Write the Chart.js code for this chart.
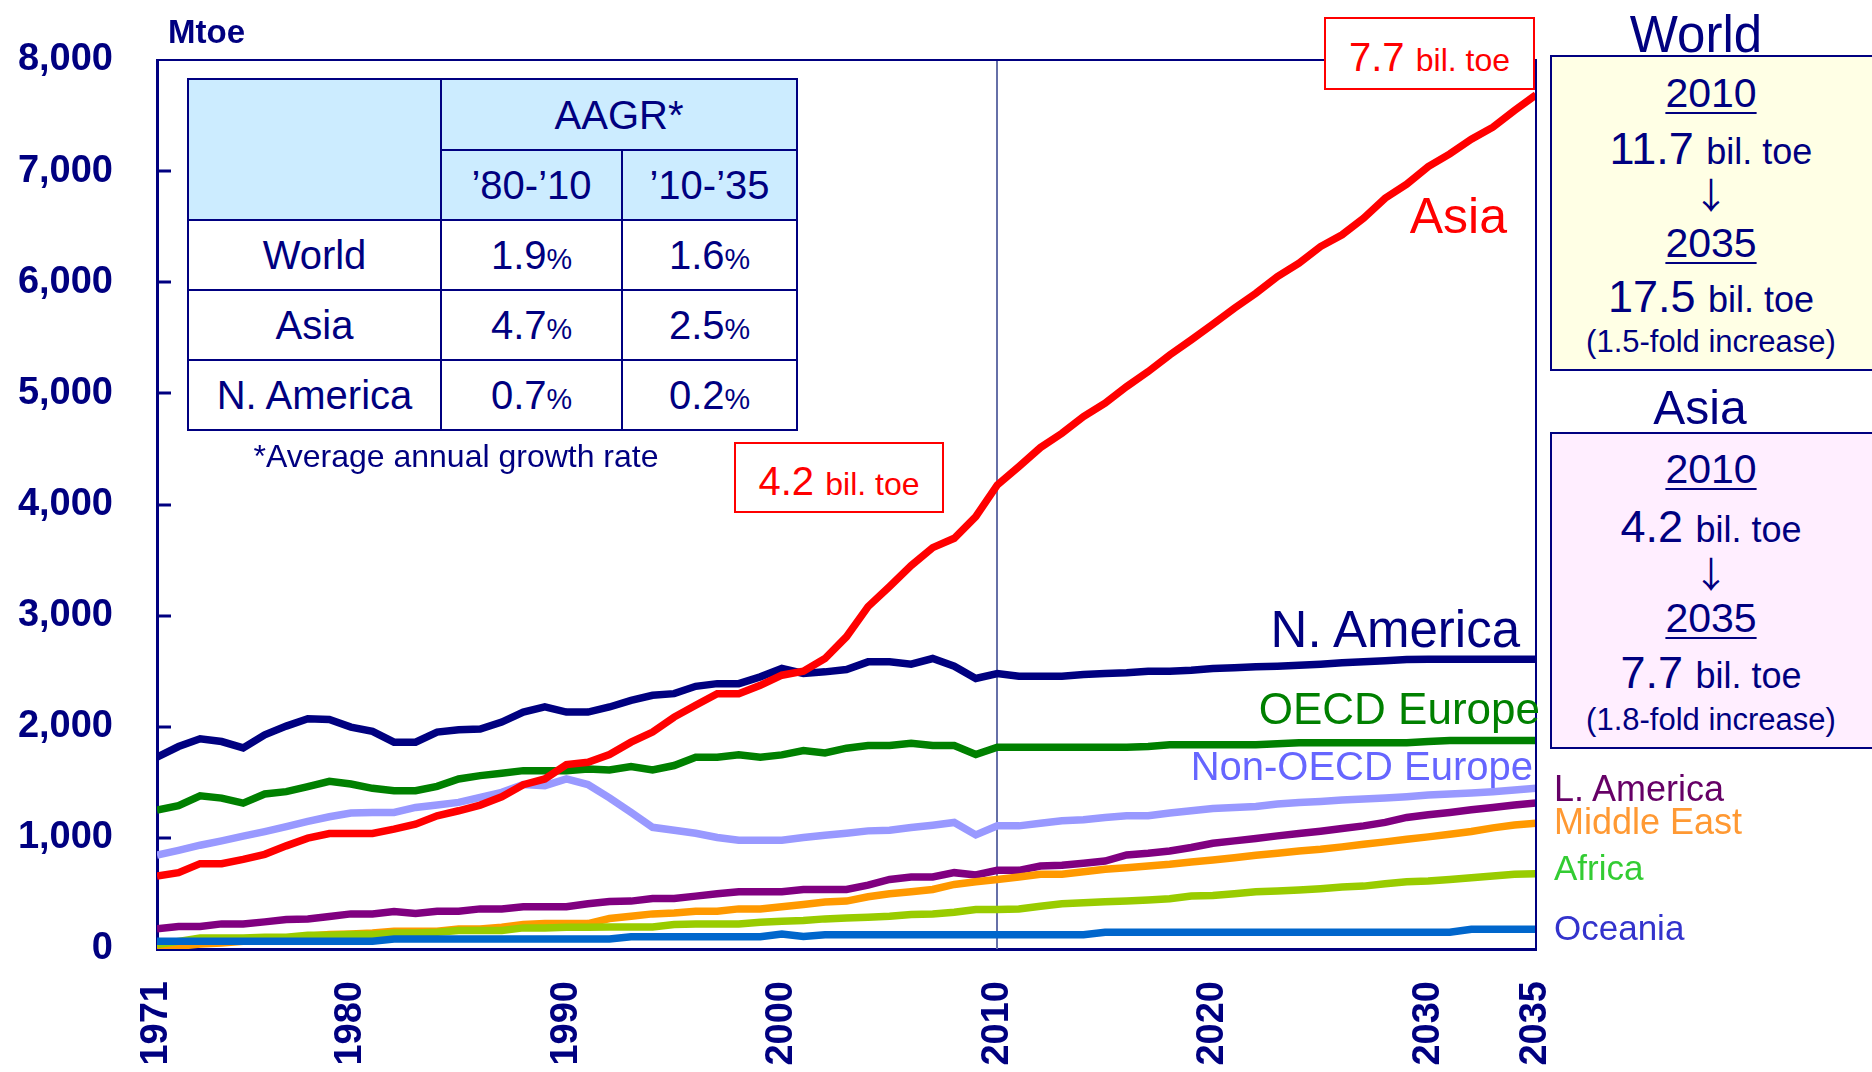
<!DOCTYPE html>
<html><head><meta charset="utf-8">
<script src="https://cdn.jsdelivr.net/npm/chart.js@4/dist/chart.umd.min.js"></script>
<style>
html,body{margin:0;padding:0;background:#fff;}
#wrap{position:relative;width:1872px;height:1072px;overflow:hidden;font-family:"Liberation Sans",Arial,sans-serif;color:#000080;}
canvas{position:absolute;left:0;top:0;}
.t{position:absolute;white-space:nowrap;line-height:1;}
.c{text-align:center;}
.arr{font-family:"Noto Sans CJK JP","Noto Sans CJK SC",sans-serif;}
.box{position:absolute;box-sizing:border-box;}
#tbl{position:absolute;left:187px;top:78px;width:609px;height:352px;border-collapse:collapse;table-layout:fixed;background:#fff;font-size:40px;color:#000080;}
#tbl td{border:2px solid #000080;text-align:center;padding:0;line-height:1;}
#tbl td.hd{background:#CCECFF;}
small{font-size:0.72em;}
u{text-decoration-thickness:2px;text-underline-offset:5px;}
</style></head><body>
<div id="wrap">
<canvas id="c" width="1872" height="1072"></canvas>

<div class="t" style="left:168px;top:15px;font-size:33px;font-weight:bold;">Mtoe</div>

<table id="tbl"></table>
<div class="t c" style="left:236px;width:440px;top:440px;font-size:32px;">*Average annual growth rate</div>

<div class="box" style="left:1324px;top:17px;width:211px;height:73px;border:2px solid #FF0000;background:#fff;"></div>
<div class="t c" style="left:1324px;width:211px;top:37px;font-size:40px;color:#FF0000;">7.7 <span style="font-size:32px">bil. toe</span></div>

<div class="box" style="left:734px;top:442px;width:210px;height:71px;border:2px solid #FF0000;background:#fff;"></div>
<div class="t c" style="left:734px;width:210px;top:461px;font-size:40px;color:#FF0000;">4.2 <span style="font-size:32px">bil. toe</span></div>

<div class="t" style="right:365px;top:191px;font-size:50px;color:#FF0000;">Asia</div>
<div class="t" style="right:352px;top:604px;font-size:51px;color:#000080;">N. America</div>
<div class="t" style="right:332px;top:687px;font-size:44px;color:#008000;">OECD Europe</div>
<div class="t" style="right:339px;top:746px;font-size:40px;color:#6666FF;">Non-OECD Europe</div>
<div class="t" style="left:1554px;top:771px;font-size:36px;color:#660066;">L. America</div>
<div class="t" style="left:1554px;top:804px;font-size:36px;color:#FF9933;">Middle East</div>
<div class="t" style="left:1554px;top:850px;font-size:35px;color:#33CC33;">Africa</div>
<div class="t" style="left:1554px;top:910px;font-size:35px;color:#3333CC;">Oceania</div>

<div class="t c" style="left:1596px;width:200px;top:9px;font-size:51px;">World</div>
<div class="box" style="left:1550px;top:55px;width:340px;height:316px;border:2px solid #000080;background:#FFFFE5;"></div>
<div class="t c" style="left:1551px;width:320px;top:73px;font-size:41px;"><u>2010</u></div>
<div class="t c" style="left:1551px;width:320px;top:126px;font-size:45px;">11.7 <span style="font-size:36px">bil. toe</span></div>
<div class="t c arr" style="left:1551px;width:320px;top:175px;font-size:36px;">↓</div>
<div class="t c" style="left:1551px;width:320px;top:223px;font-size:41px;"><u>2035</u></div>
<div class="t c" style="left:1551px;width:320px;top:274px;font-size:45px;">17.5 <span style="font-size:36px">bil. toe</span></div>
<div class="t c" style="left:1551px;width:320px;top:326px;font-size:31px;">(1.5-fold increase)</div>

<div class="t c" style="left:1600px;width:200px;top:384px;font-size:48px;">Asia</div>
<div class="box" style="left:1550px;top:432px;width:340px;height:317px;border:2px solid #000080;background:#FFEEFF;"></div>
<div class="t c" style="left:1551px;width:320px;top:449px;font-size:41px;"><u>2010</u></div>
<div class="t c" style="left:1551px;width:320px;top:504px;font-size:45px;">4.2 <span style="font-size:36px">bil. toe</span></div>
<div class="t c arr" style="left:1551px;width:320px;top:554px;font-size:36px;">↓</div>
<div class="t c" style="left:1551px;width:320px;top:598px;font-size:41px;"><u>2035</u></div>
<div class="t c" style="left:1551px;width:320px;top:650px;font-size:45px;">7.7 <span style="font-size:36px">bil. toe</span></div>
<div class="t c" style="left:1551px;width:320px;top:704px;font-size:31px;">(1.8-fold increase)</div>
</div>

<script>
const years = [1971,1972,1973,1974,1975,1976,1977,1978,1979,1980,1981,1982,1983,1984,1985,1986,1987,1988,1989,1990,
1991,1992,1993,1994,1995,1996,1997,1998,1999,2000,2001,2002,2003,2004,2005,2006,2007,2008,2009,2010,
2011,2012,2013,2014,2015,2016,2017,2018,2019,2020,2021,2022,2023,2024,2025,2026,2027,2028,2029,2030,
2031,2032,2033,2034,2035];
const xTickYears = [1971,1980,1990,2000,2010,2020,2030,2035];
const yTickValues = [0,1000,2000,3000,4000,5000,6000,7000,8000];
const markerYear = 2010;

const asia = [657,687,768,768,807,852,928,997,1039,1039,1039,1078,1123,1199,1244,1295,1370,1479,1530,1660,
1681,1750,1861,1952,2087,2193,2298,2298,2373,2464,2500,2614,2810,3081,3262,3450,3612,3696,3891,4176,
4341,4512,4641,4791,4911,5061,5196,5346,5481,5622,5766,5901,6051,6171,6321,6427,6577,6757,6882,7041,
7155,7287,7395,7545,7686];
const nAmerica = [1726,1822,1892,1867,1810,1928,2006,2072,2066,1997,1958,1861,1861,1952,1973,1979,2042,2132,2178,2132,
2132,2178,2238,2283,2298,2364,2388,2388,2449,2524,2479,2494,2515,2584,2584,2563,2614,2545,2434,2479,
2455,2455,2455,2470,2479,2485,2500,2500,2509,2524,2530,2539,2545,2554,2563,2575,2584,2593,2605,2608,
2608,2608,2608,2608,2608];
const oecdEurope = [1250,1289,1379,1358,1313,1395,1416,1461,1509,1485,1446,1425,1425,1464,1530,1560,1581,1605,1605,1605,
1620,1611,1642,1611,1651,1726,1726,1747,1726,1747,1786,1765,1807,1831,1831,1852,1831,1831,1750,1816,
1816,1816,1816,1816,1816,1816,1822,1837,1837,1837,1837,1837,1846,1855,1855,1855,1855,1855,1855,1867,
1876,1876,1876,1876,1876];
const nonOecdEurope = [846,888,934,973,1015,1057,1102,1148,1190,1223,1229,1229,1274,1295,1319,1364,1410,1480,1470,1530,
1480,1360,1230,1095,1069,1042,1003,979,979,979,1003,1024,1042,1063,1069,1093,1114,1139,1027,1108,
1108,1132,1154,1163,1184,1199,1199,1223,1244,1265,1274,1283,1304,1319,1328,1340,1349,1358,1370,1385,
1394,1403,1416,1431,1446];
const lAmerica = [181,202,202,226,226,244,265,271,292,316,316,337,319,340,340,361,361,380,380,380,
407,428,431,455,455,476,497,515,515,515,536,536,536,575,626,648,648,687,666,708,
708,747,753,771,792,846,861,882,913,952,973,994,1018,1039,1060,1084,1108,1139,1184,1208,
1229,1253,1274,1295,1313];
const middleEast = [18,24,45,54,69,84,99,114,130,136,145,160,160,160,181,181,196,220,229,229,
229,274,295,316,325,340,340,361,361,380,401,422,431,470,497,515,536,581,605,626,
648,672,672,696,717,732,747,762,783,801,822,843,861,882,898,919,943,964,988,1009,
1033,1057,1090,1115,1132];
const africa = [39,69,99,99,99,105,105,123,123,130,130,145,145,151,166,166,166,190,190,196,
196,199,199,199,220,226,226,226,241,250,256,271,280,286,295,310,316,331,355,355,
361,385,407,416,425,431,440,452,476,482,497,515,521,530,542,557,566,587,605,611,
626,642,657,672,678];
const oceania = [70,70,70,70,70,70,70,70,70,70,70,90,90,90,90,90,90,90,90,90,
90,90,110,110,110,110,110,110,110,135,112,128,128,128,128,128,128,128,128,128,
128,128,128,128,150,150,150,150,150,150,150,150,150,150,150,150,150,150,150,150,
150,178,178,178,178];

const aagrRegions = ['World','Asia','N. America'];
const aagr8010 = [1.9,4.7,0.7];
const aagr1035 = [1.6,2.5,0.2];
const aagrPeriods = ['’80-’10','’10-’35'];

(function(){
  const t = document.getElementById('tbl');
  let h = '<colgroup><col style="width:253px"><col style="width:181px"><col style="width:175px"></colgroup>';
  h += '<tr style="height:71px"><td rowspan="2" class="hd"></td><td colspan="2" class="hd">AAGR*</td></tr>';
  h += '<tr style="height:70px"><td class="hd">'+aagrPeriods[0]+'</td><td class="hd">'+aagrPeriods[1]+'</td></tr>';
  aagrRegions.forEach((r,i)=>{
    h += '<tr style="height:70px"><td>'+r+'</td><td>'+aagr8010[i].toFixed(1)+'<small>%</small></td><td>'+aagr1035[i].toFixed(1)+'<small>%</small></td></tr>';
  });
  t.innerHTML = h;
})();

const NAVY = '#000080';
const seriesDefs = [
  {label:'Asia', data:asia, color:'#FF0000'},
  {label:'N. America', data:nAmerica, color:'#000080'},
  {label:'Oceania', data:oceania, color:'#0066CC'},
  {label:'Africa', data:africa, color:'#99CC00'},
  {label:'Middle East', data:middleEast, color:'#FF9900'},
  {label:'L. America', data:lAmerica, color:'#800080'},
  {label:'OECD Europe', data:oecdEurope, color:'#008000'},
  {label:'Non-OECD Europe', data:nonOecdEurope, color:'#9999FF'}
];

const frame = {
  id:'frame',
  beforeDatasetsDraw(chart){
    const {ctx, chartArea:a, scales:{x}} = chart;
    const px = Math.round(x.getPixelForValue(markerYear));
    ctx.save();
    ctx.strokeStyle = '#6670A8';
    ctx.lineWidth = 2;
    ctx.beginPath(); ctx.moveTo(px, a.top); ctx.lineTo(px, a.bottom); ctx.stroke();
    ctx.restore();
  },
  afterDraw(chart){
    const {ctx, chartArea:a, scales:{y}} = chart;
    ctx.save();
    ctx.strokeStyle = NAVY;
    ctx.lineWidth = 2;
    ctx.beginPath();
    ctx.moveTo(a.left, a.top); ctx.lineTo(a.right, a.top); ctx.lineTo(a.right, a.bottom);
    ctx.stroke();
    ctx.lineWidth = 3;
    yTickValues.forEach(v=>{
      if (v===0 || v===8000) return;
      const py = Math.round(y.getPixelForValue(v));
      ctx.beginPath(); ctx.moveTo(a.left, py); ctx.lineTo(a.left+14, py); ctx.stroke();
    });
    ctx.restore();
  }
};

const tickFont = {family:'"Liberation Sans", Arial, sans-serif', weight:'bold', size:38};

new Chart(document.getElementById('c'), {
  type:'line',
  data:{
    datasets: seriesDefs.map(s=>({
      label:s.label,
      data: years.map((yr,i)=>({x:yr, y:s.data[i]})),
      borderColor:s.color,
      backgroundColor:s.color,
      borderWidth:7.5,
      pointRadius:0,
      tension:0,
      fill:false
    }))
  },
  options:{
    responsive:false,
    animation:false,
    devicePixelRatio:1,
    layout:{padding:{top:60,right:336,left:0,bottom:0}},
    plugins:{legend:{display:false},tooltip:{enabled:false}},
    scales:{
      x:{
        type:'linear', min:1971, max:2035,
        afterBuildTicks(s){ s.ticks = xTickYears.map(v=>({value:v})); },
        afterFit(s){ s.height = 123; },
        grid:{display:true, drawOnChartArea:false, drawTicks:false},
        border:{display:true, color:NAVY, width:3},
        ticks:{autoSkip:false, minRotation:90, maxRotation:90, padding:32, color:NAVY, font:tickFont,
          callback:v=>String(v)}
      },
      y:{
        min:0, max:8000,
        afterBuildTicks(s){ s.ticks = yTickValues.map(v=>({value:v})); },
        afterFit(s){ s.width = 157; },
        grid:{display:true, drawOnChartArea:false, drawTicks:true, tickLength:44, tickColor:'rgba(0,0,0,0)'},
        border:{display:true, color:NAVY, width:3},
        ticks:{padding:0, color:NAVY, font:tickFont, callback:v=>v.toLocaleString('en-US')}
      }
    }
  },
  plugins:[frame]
});
</script>
</body></html>
